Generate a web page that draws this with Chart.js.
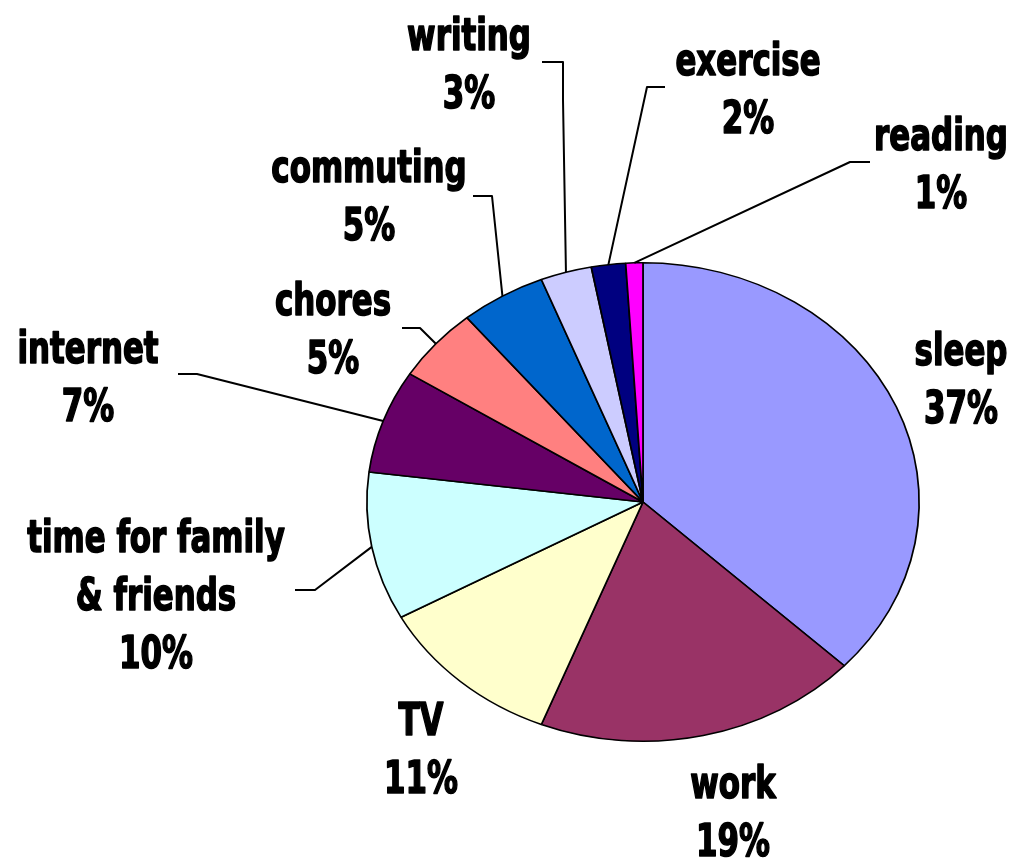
<!DOCTYPE html>
<html>
<head>
<meta charset="utf-8">
<script src="https://cdn.jsdelivr.net/npm/chart.js@4.4.1/dist/chart.umd.min.js"></script>
<style>
  html, body { margin: 0; padding: 0; background: #fff; }
  #wrap { width: 1011px; height: 859px; }
</style>
</head>
<body>
<div id="wrap"><canvas id="pie"></canvas></div>
<script>
var categories = ['sleep', 'work', 'TV', 'time for family & friends', 'internet', 'chores', 'commuting', 'writing', 'exercise', 'reading'];
var percents = [37, 19, 11, 10, 7, 5, 5, 3, 2, 1];
var sliceColors = ['#9999FF', '#993366', '#FFFFCC', '#CCFFFF', '#660066', '#FF8080', '#0066CC', '#CCCCFF', '#000080', '#FF00FF'];

// the old excel pie is a bit wider than tall
var pieStretch = 277 / 240;
var textSqueeze = 0.78;
var lineGap = 58;

// where each label sits (centre x, first baseline) and the bends of its leader line
var labelPos = {
  'sleep': { x: 961, y: 365 },
  'work': { x: 733, y: 798 },
  'TV': { x: 421, y: 735 },
  'time for family & friends': { x: 156, y: 552, lines: ['time for family', '& friends'], leader: [[315, 590], [295, 590]] },
  'internet': { x: 88, y: 363, leader: [[197, 374], [178, 374]] },
  'chores': { x: 333, y: 315, leader: [[420, 328], [402, 328]] },
  'commuting': { x: 369, y: 182, leader: [[492, 196], [473, 196]] },
  'writing': { x: 469, y: 50, leader: [[563, 100], [563, 62], [542, 62]] },
  'exercise': { x: 748, y: 75, leader: [[647, 87], [665, 87]] },
  'reading': { x: 941, y: 150, leader: [[850, 162], [870, 162]] }
};

var stretchPie = {
  id: 'stretchPie',
  beforeDatasetsDraw: function (chart) {
    var arc = chart.getDatasetMeta(0).data[0];
    var ctx = chart.ctx;
    ctx.save();
    ctx.translate(arc.x, arc.y);
    ctx.scale(pieStretch, 1);
    ctx.translate(-arc.x, -arc.y);
  },
  afterDatasetsDraw: function (chart) {
    chart.ctx.restore();
  }
};

var pieLabels = {
  id: 'pieLabels',
  afterDraw: function (chart) {
    var ctx = chart.ctx;
    var arcs = chart.getDatasetMeta(0).data;
    ctx.save();
    ctx.fillStyle = '#000';
    ctx.strokeStyle = '#000';
    ctx.textAlign = 'center';
    ctx.textBaseline = 'alphabetic';
    ctx.font = 'bold 44px "DejaVu Sans Condensed", "DejaVu Sans", sans-serif';
    ctx.lineJoin = 'round';
    arcs.forEach(function (arc, i) {
      var name = categories[i];
      var pos = labelPos[name];
      if (pos.leader) {
        var mid = (arc.startAngle + arc.endAngle) / 2;
        ctx.lineWidth = 2;
        ctx.beginPath();
        ctx.moveTo(arc.x + Math.cos(mid) * arc.outerRadius * pieStretch, arc.y + Math.sin(mid) * arc.outerRadius);
        pos.leader.forEach(function (p) { ctx.lineTo(p[0], p[1]); });
        ctx.stroke();
      }
      var lines = (pos.lines || [name]).concat([percents[i] + '%']);
      lines.forEach(function (txt, k) {
        ctx.save();
        ctx.translate(pos.x, pos.y + k * lineGap);
        ctx.scale(textSqueeze, 1);
        ctx.lineWidth = 1.6;
        ctx.fillText(txt, 0, 0);
        ctx.strokeText(txt, 0, 0);
        ctx.restore();
      });
    });
    ctx.restore();
  }
};

new Chart(document.getElementById('pie'), {
  type: 'pie',
  data: {
    labels: categories,
    datasets: [{
      data: percents,
      backgroundColor: sliceColors,
      borderColor: '#000',
      borderWidth: 1.5,
      clip: false
    }]
  },
  options: {
    responsive: true,
    maintainAspectRatio: false,
    animation: false,
    events: [],
    layout: {
      padding: { left: 403, right: 128, top: 262, bottom: 117 }
    },
    plugins: {
      legend: { display: false },
      tooltip: { enabled: false }
    }
  },
  plugins: [stretchPie, pieLabels]
});
</script>
</body>
</html>
